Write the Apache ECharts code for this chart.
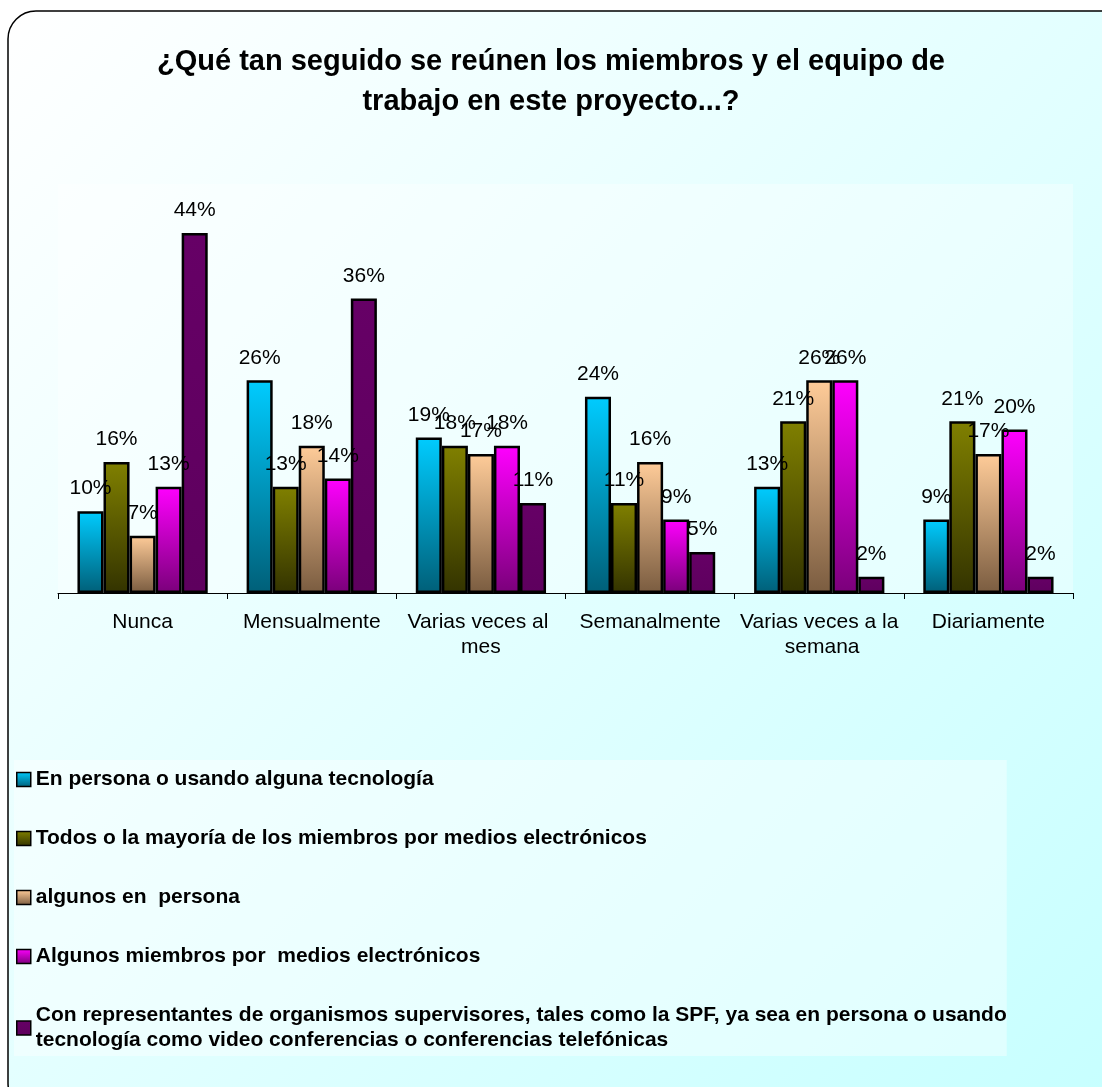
<!DOCTYPE html>
<html>
<head>
<meta charset="utf-8">
<script src="https://cdn.jsdelivr.net/npm/echarts@6/dist/echarts.min.js"></script>
<style>
html,body{margin:0;padding:0;background:#fff;}
#chart{width:1102px;height:1087px;}
</style>
</head>
<body>
<div id="chart"></div>
<script>
const titleText = '¿Qué tan seguido se reúnen los miembros y el equipo de\ntrabajo en este proyecto...?';
const categories = ['Nunca', 'Mensualmente', 'Varias veces al mes', 'Semanalmente', 'Varias veces a la semana', 'Diariamente'];
const seriesNames = [
  'En persona o usando alguna tecnología',
  'Todos o la mayoría de los miembros por medios electrónicos',
  'algunos en  persona',
  'Algunos miembros por  medios electrónicos',
  'Con representantes de organismos supervisores, tales como la SPF, ya sea en persona o usando tecnología como video conferencias o conferencias telefónicas'
];
const enPersona = [10, 26, 19, 24, 13, 9];
const todosMayoria = [16, 13, 18, 11, 21, 21];
const algunosPersona = [7, 18, 17, 16, 26, 17];
const algunosElectronicos = [13, 14, 18, 9, 26, 20];
const conRepresentantes = [44, 36, 11, 5, 2, 2];

const seriesValues = [enPersona, todosMayoria, algunosPersona, algunosElectronicos, conRepresentantes];
const gradients = [
  ['#00ccff', '#005f78'],
  ['#808000', '#333300'],
  ['#ffcc99', '#7a5c40'],
  ['#ff00ff', '#7a007a'],
  ['#660066', '#5e005e']
];
const FONT = 'Arial, "Liberation Sans", Helvetica, sans-serif';
const LEGEND_WRAP_CHARS = 92;

function grad(c) {
  return new echarts.graphic.LinearGradient(0, 0, 0, 1, [
    {offset: 0, color: c[0]},
    {offset: 1, color: c[1]}
  ]);
}

function wrapWords(text, maxChars) {
  const words = text.split(' ');
  const lines = [];
  let cur = '';
  words.forEach(w => {
    const cand = cur === '' ? w : cur + ' ' + w;
    if (cand.length > maxChars && cur !== '') {
      lines.push(cur);
      cur = w;
    } else {
      cur = cand;
    }
  });
  if (cur !== '') lines.push(cur);
  return lines.join('\n');
}

const chart = echarts.init(document.getElementById('chart'), null, {renderer: 'canvas'});
const option = {
  animation: false,
  backgroundColor: '#ffffff',
  graphic: [{
    type: 'rect',
    z: -100,
    silent: true,
    shape: {x: 8, y: 11, width: 1120, height: 1100, r: 28},
    style: {
      fill: new echarts.graphic.LinearGradient(0, 0, 1, 1, [
        {offset: 0, color: '#ffffff'},
        {offset: 1, color: '#c6ffff'}
      ]),
      stroke: '#000000',
      lineWidth: 1.5
    }
  }],
  title: {
    text: titleText,
    left: 'center',
    top: 42,
    padding: [0, 0, 0, 14],
    textStyle: {
      fontFamily: FONT,
      fontSize: 29,
      fontWeight: 'bold',
      color: '#000',
      lineHeight: 40
    }
  },
  legend: {
    orient: 'vertical',
    left: 14,
    top: 760,
    padding: [7, 0, 3, 2],
    itemWidth: 14,
    itemHeight: 14,
    itemGap: 34,
    itemTextGap: 5,
    icon: 'rect',
    backgroundColor: 'rgba(255,255,255,0.4)',
    itemStyle: {borderColor: '#000', borderWidth: 1.5},
    formatter: name => wrapWords(name, LEGEND_WRAP_CHARS),
    textStyle: {
      fontFamily: FONT,
      fontSize: 21,
      fontWeight: 'bold',
      color: '#000',
      lineHeight: 25
    },
    data: seriesNames
  },
  grid: {
    left: 58,
    right: 29,
    top: 184,
    bottom: 494,
    show: true,
    backgroundColor: 'rgba(255,255,255,0.35)',
    borderWidth: 0,
    containLabel: false
  },
  xAxis: {
    type: 'category',
    data: categories,
    axisLine: {lineStyle: {color: '#000', width: 1}},
    axisTick: {show: true, length: 6, lineStyle: {color: '#000'}, alignWithLabel: false},
    axisLabel: {
      interval: 0,
      color: '#000',
      fontFamily: FONT,
      fontSize: 21,
      lineHeight: 25,
      margin: 17,
      width: 162,
      overflow: 'break'
    }
  },
  yAxis: {
    type: 'value',
    min: 0,
    max: 50,
    show: false,
    splitLine: {show: false}
  },
  series: seriesValues.map((vals, i) => ({
    name: seriesNames[i],
    type: 'bar',
    data: vals,
    barGap: '0%',
    barCategoryGap: '23%',
    itemStyle: {
      color: grad(gradients[i]),
      borderColor: '#000',
      borderWidth: 2.5
    },
    label: {
      show: true,
      position: 'top',
      distance: 12,
      formatter: '{c}%',
      color: '#000',
      fontFamily: FONT,
      fontSize: 21
    }
  }))
};
chart.setOption(option);
</script>
</body>
</html>
